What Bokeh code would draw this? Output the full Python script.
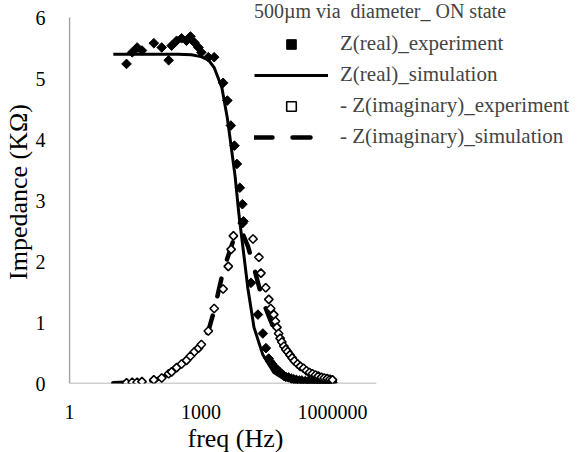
import numpy as np
from bokeh.plotting import figure
from bokeh.models import Legend, LegendItem, FixedTicker, CustomJSTickFormatter, Title
from bokeh.embed import file_html
from bokeh.resources import INLINE

# ---- data ----
re_exp_freq = [20, 27, 35, 45, 84, 127, 183, 214, 278, 361, 467, 575, 709, 875, 1020,
               1470, 2000, 3200, 4000, 4800, 5800, 6600, 7700, 8800, 8900, 9300,
               13800, 19900, 25800, 30300, 35000, 38000, 42000, 46000, 51000, 56000, 62000, 69000,
               77000, 86000, 100000, 115000, 130000, 150000, 175000, 200000, 240000, 280000,
               330000, 400000, 460000, 530000, 620000, 720000, 850000, 1000000]
re_exp_val = [5.24, 5.43, 5.51, 5.46, 5.58, 5.51, 5.30, 5.54, 5.62, 5.66, 5.62, 5.69, 5.59, 5.51, 5.43,
              5.35, 5.35, 4.93, 4.64, 4.23, 3.90, 3.60, 3.21, 2.94, 2.63, 2.66,
              1.65, 1.13, 0.82, 0.58, 0.41, 0.36, 0.32, 0.28, 0.25, 0.22, 0.19, 0.16,
              0.13, 0.11, 0.10, 0.08, 0.07, 0.06, 0.05, 0.05, 0.04, 0.04,
              0.03, 0.03, 0.03, 0.02, 0.02, 0.02, 0.02, 0.02]

im_exp_freq = [20, 27, 35, 45, 84, 127, 183, 214, 278, 361, 467, 575, 709, 875, 1020,
               1470, 2000, 3200, 4200, 4870, 5500,
               15400, 21000, 23300, 30000, 35300, 39000, 45800, 50000, 54000, 59000, 64000, 70000,
               78000, 86000, 95000, 107000, 120000, 135000, 160000, 185000, 219000, 255000, 300000,
               350000, 410000, 476000, 560000, 650000, 760000, 880000, 1000000]
im_exp_val = [0.01, 0.02, 0.02, 0.03, 0.06, 0.09, 0.16, 0.19, 0.26, 0.32, 0.38, 0.45, 0.52, 0.58, 0.64,
              0.86, 1.23, 1.55, 1.92, 2.20, 2.42,
              2.37, 2.07, 1.81, 1.57, 1.38, 1.23, 1.13, 1.02, 0.92, 0.82, 0.74, 0.68,
              0.61, 0.56, 0.52, 0.47, 0.42, 0.37, 0.32, 0.28, 0.25, 0.21, 0.18,
              0.16, 0.14, 0.12, 0.10, 0.09, 0.08, 0.07, 0.06]

sim_freq = [10, 100, 300, 600, 1000, 1500, 2000, 3000, 4000, 4650, 6000, 7400, 9100,
            11800, 16200, 25800, 45800, 80000, 129000, 300000, 1000000]
re_sim_val = [5.40, 5.40, 5.40, 5.39, 5.36, 5.30, 5.18, 4.85, 4.35, 4.00, 3.40, 2.75, 2.22,
              1.55, 0.92, 0.47, 0.18, 0.07, 0.03, 0.01, 0.00]

im_sim_freq = [10, 30, 60, 100, 180, 420, 700, 1000, 1500, 2000, 2600, 3200, 4200, 5500,
               7000, 9000, 11800, 16200, 25800, 45800, 80000, 130000, 300000, 1000000]
im_sim_val = [0.005, 0.02, 0.04, 0.07, 0.15, 0.35, 0.52, 0.64, 0.88, 1.20, 1.56, 1.84, 2.10, 2.35,
              2.50, 2.45, 2.25, 1.90, 1.35, 0.90, 0.55, 0.35, 0.15, 0.05]

x_ticks = [1, 1000, 1000000]
y_ticks = [0, 1, 2, 3, 4, 5, 6]
x_axis_min, x_axis_max = 1, 1e7
y_axis_min, y_axis_max = 0, 6

FONT = "Liberation Serif"
AXIS_GRAY = "#a0a0a0"

# The frame is widened (right and top) so that the legend can overlap the plot area
# as in the reference; the visible axes still span 1..1e7 and 0..6.
px_per_decade = 308 / 7
left, right_border = 66, 5
frame_w = 586 - left - right_border
x_start = 10 ** (-1 / px_per_decade)
x_end = 10 ** (frame_w / px_per_decade - 1 / px_per_decade)
y_end = 6.28

p = figure(width=586, height=452, x_axis_type="log", x_range=(x_start, x_end),
           y_range=(0, y_end), output_backend="svg", toolbar_location=None,
           min_border_left=left, min_border_right=right_border, min_border_top=0,
           min_border_bottom=20)
p.outline_line_color = None
p.xgrid.visible = False
p.ygrid.visible = False
p.background_fill_color = "white"
p.border_fill_color = "white"

# visible axis lines
p.segment(x0=[x_axis_min], y0=[y_axis_min], x1=[x_axis_max], y1=[y_axis_min],
          line_color=AXIS_GRAY, line_width=1.5)
p.segment(x0=[x_axis_min], y0=[y_axis_min], x1=[x_axis_min], y1=[y_axis_max],
          line_color=AXIS_GRAY, line_width=1.5)

r_re_sim = p.line(sim_freq, re_sim_val, line_color="black", line_width=3)
r_im_sim = p.line(im_sim_freq, im_sim_val, line_color="black", line_width=4.5,
                  line_dash="18 20", line_cap="round")
r_re_exp = p.scatter(re_exp_freq, re_exp_val, marker="square", angle=np.pi / 4, size=6.8,
                     fill_color="black", line_color="black", line_width=1)
r_im_exp = p.scatter(im_exp_freq, im_exp_val, marker="square", angle=np.pi / 4, size=6,
                     fill_color="white", line_color="black", line_width=1.6)

for ax in (p.xaxis[0], p.yaxis[0]):
    ax.axis_line_color = None
    ax.major_tick_line_color = None
    ax.minor_tick_line_color = None
    ax.major_label_text_font = FONT
    ax.major_label_text_font_size = "20px"
    ax.major_label_text_color = "black"
    ax.axis_label_text_font = FONT
    ax.axis_label_text_font_size = "26px"
    ax.axis_label_text_font_style = "normal"
    ax.axis_label_text_color = "black"

p.xaxis.ticker = FixedTicker(ticks=x_ticks)
p.xaxis.formatter = CustomJSTickFormatter(code="return tick.toFixed(0);")
p.xaxis.major_label_standoff = 15
p.yaxis.ticker = FixedTicker(ticks=y_ticks)
p.yaxis.major_label_standoff = 17
p.yaxis.axis_label = "Impedance (KΩ)"
p.yaxis.axis_label_standoff = 0

xlabel = Title(text="freq (Hz)", align="left", offset=119, text_font=FONT,
               text_font_size="26px", text_font_style="normal", text_color="black",
               standoff=0)
p.add_layout(xlabel, "below")

legend = Legend(items=[
    LegendItem(label="Z(real)_experiment", renderers=[r_re_exp]),
    LegendItem(label="Z(real)_simulation", renderers=[r_re_sim]),
    LegendItem(label="- Z(imaginary)_experiment", renderers=[r_im_exp]),
    LegendItem(label="- Z(imaginary)_simulation", renderers=[r_im_sim]),
], location=(186, 234))
legend.title = "500µm via  diameter_ ON state"
legend.title_text_font = FONT
legend.title_text_font_size = "20px"
legend.title_text_font_style = "normal"
legend.title_standoff = 8
legend.label_text_font = FONT
legend.label_text_font_size = "21px"
legend.glyph_width = 74
legend.glyph_height = 24
legend.label_height = 24
legend.spacing = 6
legend.label_standoff = 12
legend.padding = 0
legend.margin = 0
legend.border_line_color = None
legend.background_fill_alpha = 0
p.add_layout(legend, "center")

open("out.html", "w").write(file_html(p, INLINE))
